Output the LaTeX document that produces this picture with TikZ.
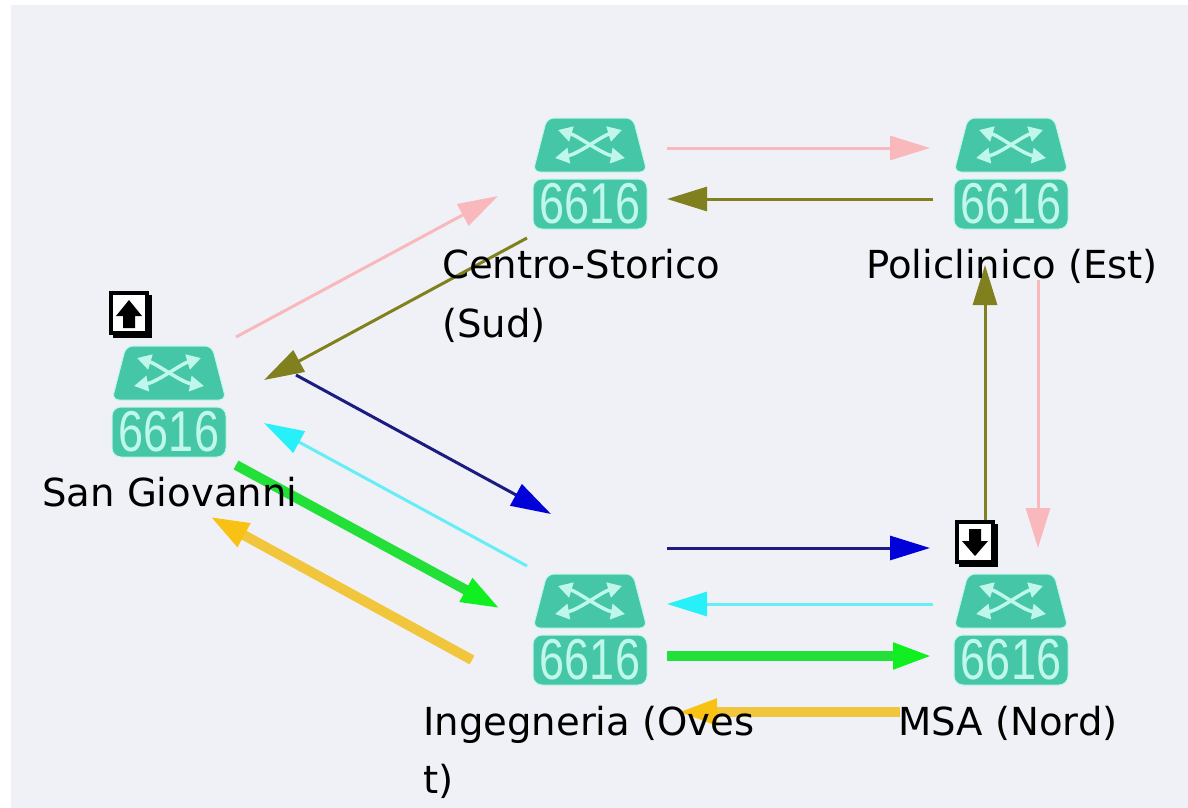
\documentclass[tikz,border=0pt]{standalone}
\usepackage{fontspec}
\setmainfont{DejaVu Sans}
\newfontfamily\digitfont{Liberation Sans}
\usetikzlibrary{arrows.meta}
\definecolor{panel}{HTML}{F0F1F6}
\definecolor{teal}{HTML}{45C6A6}
\definecolor{pale}{HTML}{BFF8EA}
\definecolor{linkpink}{HTML}{F8B8BC}
\definecolor{linkolive}{HTML}{80801E}
\definecolor{linknavy}{HTML}{1C1C80}
\definecolor{headblue}{HTML}{0000D8}
\definecolor{linkcyan}{HTML}{66EEF6}
\definecolor{headcyan}{HTML}{28F0F8}
\definecolor{linkgreen}{HTML}{22E038}
\definecolor{headgreen}{HTML}{10F020}
\definecolor{linkgold}{HTML}{F2C63C}
\definecolor{headgold}{HTML}{F8C214}
\tikzset{
  x=1pt,y=-1pt,
  switchbox/.style={minimum width=112pt,minimum height=112pt,inner sep=0pt},
  caption/.style={anchor=base west,inner sep=0pt,text=black,font=\fontsize{38.6}{44}\selectfont},
  linkthin/.style={line width=3pt},
  linkthick/.style={line width=10pt},
  tiphead/.style={-{Stealth[length=40pt,width=24pt,inset=0pt,#1]}},
  tiphead/.default={},
  swsgn/.style={pale,line width=3.5pt,{Stealth[length=14pt,width=15pt,inset=0pt]}-{Stealth[length=14pt,width=15pt,inset=0pt]}},
  switchicon/.pic={
    \path[fill=teal,draw=pale,line width=1pt,rounded corners=7pt]
      (-43,-56) -- (43,-56) -- (57,-2) -- (-57,-2) -- cycle;
    \path[fill=teal,draw=pale,line width=1pt,rounded corners=9pt]
      (-57,5) rectangle (57,55);
    \draw[swsgn] (-35,-16) .. controls (-12,-20) and (12,-38) .. (32,-44);
    \draw[swsgn] (-32,-44) .. controls (-12,-38) and (12,-20) .. (35,-16);
    \node[inner sep=0pt,text=pale,yscale=1.28] (-digits) at (0,30)
      {\digitfont\fontsize{45}{45}\selectfont 6616};
  },
  badge/.style={draw=black,line width=4pt,fill=white,minimum width=36pt,minimum height=40pt,inner sep=0pt},
}
\begin{document}
\begin{tikzpicture}
\useasboundingbox (0,0) rectangle (1188,808);
\fill[white] (0,0) rectangle (1188,808);
\fill[panel] (11,5) rectangle (1188,808);

% switches
\node[switchbox] (sg) at (169,402) {};
\node[switchbox] (cs) at (590,174) {};
\node[switchbox] (po) at (1011,174) {};
\node[switchbox] (in) at (590,630) {};
\node[switchbox] (ms) at (1011,630) {};
\pic (sgi) at (sg.center) {switchicon};
\pic (csi) at (cs.center) {switchicon};
\pic (poi) at (po.center) {switchicon};
\pic (ini) at (in.center) {switchicon};
\pic (msi) at (ms.center) {switchicon};

% free ends of the links
\coordinate (a1) at (667,148);  \coordinate (a2) at (930,148);
\coordinate (b1) at (933,199);  \coordinate (b2) at (667,199);
\coordinate (c1) at (236,337);  \coordinate (c2) at (498,196);
\coordinate (d1) at (527,238);  \coordinate (d2) at (264,380);
\coordinate (e1) at (296,375);  \coordinate (e2) at (551,514);
\coordinate (f1) at (527,566);  \coordinate (f2) at (264,423);
\coordinate (g1) at (236,465);  \coordinate (g2) at (501,609);
\coordinate (h1) at (472,660);  \coordinate (h2) at (209,516);
\coordinate (i1) at (667,548);  \coordinate (i2) at (930,548);
\coordinate (j1) at (933,604);  \coordinate (j2) at (667,604);
\coordinate (k1) at (667,656);  \coordinate (k2) at (933,656);
\coordinate (l1) at (900,712);  \coordinate (l2) at (677,712);
\coordinate (m1) at (985,520);  \coordinate (m2) at (985,265);
\coordinate (n1) at (1038,280); \coordinate (n2) at (1038,548);

% links
\draw[linkthin,linkpink,tiphead] (a1) -- (a2);
\draw[linkthin,linkolive,tiphead] (b1) -- (b2);
\draw[linkthin,linkpink,tiphead] (c1) -- (c2);
\draw[linkthin,linkolive,tiphead] (d1) -- (d2);
\draw[linkthin,linknavy,tiphead={color=headblue}] (e1) -- (e2);
\draw[linkthin,linkcyan,tiphead={color=headcyan}] (f1) -- (f2);
\draw[linkthick,linkgreen,tiphead={color=headgreen}] (g1) -- (g2);
\draw[linkthick,linkgold,tiphead={color=headgold}] (h1) -- (h2);
\draw[linkthin,linknavy,tiphead={color=headblue}] (i1) -- (i2);
\draw[linkthin,linkcyan,tiphead={color=headcyan}] (j1) -- (j2);
\draw[linkthick,linkgreen,tiphead={color=headgreen}] (k1) -- (k2);
\draw[linkthick,linkgold,tiphead={color=headgold}] (l1) -- (l2);
\draw[linkthin,linkolive,tiphead] (m1) -- (m2);
\draw[linkthin,linkpink,tiphead] (n1) -- (n2);

% badges
\fill[black] (113,295) rectangle (152,338);
\node[badge] (up) at (129,313) {};
\fill[black] (129,300) -- (142,316) -- (135,316) -- (135,328) -- (123,328) -- (123,316) -- (116,316) -- cycle;
\fill[black] (959,524) rectangle (998,567);
\node[badge] (down) at (975,542) {};
\fill[black] (975,556) -- (988,541) -- (981,541) -- (981,529) -- (969,529) -- (969,541) -- (962,541) -- cycle;

% captions
\node[caption] (lcs) at (442,278) {Centro-Storico};
\node[caption] (lcs2) at (442,337) {(Sud)};
\node[caption] (lpo) at (866,278) {Policlinico (Est)};
\node[caption] (lsg) at (42,506) {San Giovanni};
\node[caption] (lin) at (423,735) {Ingegneria (Oves};
\node[caption] (lin2) at (423,793) {t)};
\node[caption] (lms) at (898,735) {MSA (Nord)};
\end{tikzpicture}
\end{document}
